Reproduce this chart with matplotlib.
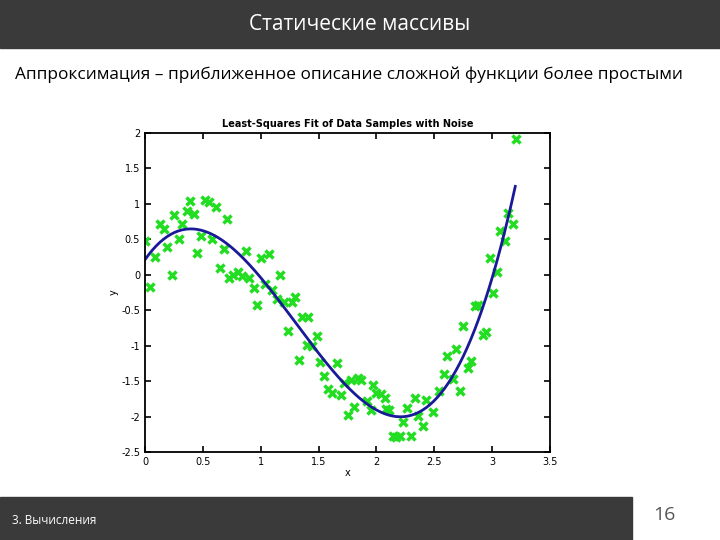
import numpy as np
import matplotlib.pyplot as plt

xs = [0.0, 0.04, 0.09, 0.13, 0.16, 0.19, 0.23, 0.25, 0.29, 0.32, 0.36, 0.39, 0.42, 0.45, 0.48,
      0.52, 0.55, 0.58, 0.61, 0.65, 0.68, 0.71, 0.73, 0.76, 0.8, 0.84, 0.87, 0.9, 0.94, 0.97,
      1.0, 1.04, 1.07, 1.1, 1.14, 1.17, 1.2, 1.24, 1.27, 1.3, 1.33, 1.36, 1.41, 1.4, 1.44,
      1.49, 1.51, 1.55, 1.58, 1.62, 1.66, 1.69, 1.72, 1.75, 1.78, 1.81, 1.84, 1.87, 1.92, 1.95,
      1.97, 2.0, 2.04, 2.07, 2.08, 2.11, 2.14, 2.17, 2.2, 2.23, 2.26, 2.3, 2.33, 2.36, 2.4,
      2.43, 2.49, 2.54, 2.58, 2.61, 2.66, 2.69, 2.72, 2.75, 2.79, 2.82, 2.85, 2.88, 2.92, 2.95,
      2.98, 3.01, 3.04, 3.07, 3.11, 3.14, 3.18, 3.21]
ys = [0.48, -0.17, 0.25, 0.72, 0.65, 0.39, 0.0, 0.85, 0.5, 0.71, 0.9, 1.04, 0.86, 0.31, 0.54,
      1.05, 1.03, 0.51, 0.96, 0.09, 0.37, 0.78, -0.05, 0.0, 0.04, -0.02, 0.33, -0.05, -0.18, -0.42,
      0.24, -0.13, 0.29, -0.22, -0.34, 0.0, -0.39, -0.8, -0.39, -0.31, -1.2, -0.6, -0.6, -0.99, -1.0,
      -0.87, -1.23, -1.43, -1.61, -1.67, -1.25, -1.7, -1.52, -1.98, -1.49, -1.87, -1.45, -1.48, -1.78, -1.91,
      -1.56, -1.67, -1.68, -1.74, -1.89, -1.91, -2.27, -2.29, -2.28, -2.08, -1.88, -2.28, -1.74, -1.99, -2.14,
      -1.77, -1.93, -1.64, -1.4, -1.15, -1.47, -1.05, -1.64, -0.72, -1.32, -1.21, -0.44, -0.43, -0.85, -0.81,
      0.24, -0.26, 0.04, 0.62, 0.47, 0.87, 0.72, 1.91]

# least-squares cubic fit
coef = np.polyfit(xs, ys, 3)
xf = np.linspace(0, 3.2, 200)
yf = np.polyval(coef, xf)

fig = plt.figure(figsize=(7.2, 5.4), dpi=100)
fig.patch.set_facecolor('white')

# slide decorations
fig.patches.append(plt.Rectangle((0, 1 - 48 / 540), 1, 48 / 540, transform=fig.transFigure,
                                 color='#3a3a3a', zorder=0))
fig.text(0.5, 1 - 24 / 540, 'Статические массивы', color='white', fontsize=15,
         ha='center', va='center', family='Open Sans')
fig.text(15 / 720, 1 - 75 / 540,
         'Аппроксимация – приближенное описание сложной функции более простыми',
         fontsize=12.4, ha='left', va='center', family='Open Sans')
fig.patches.append(plt.Rectangle((0, 0), 632 / 720, 43 / 540, transform=fig.transFigure,
                                 color='#3a3a3a', zorder=0))
fig.text(12 / 720, 20 / 540, '3. Вычисления', color='white', fontsize=8.5, ha='left',
         va='center', family='Open Sans')
fig.text(664 / 720, 25 / 540, '16', color='#555555', fontsize=14, ha='center',
         va='center', family='Open Sans')

ax = fig.add_axes([145 / 720, 1 - 452 / 540, 405 / 720, 319 / 540])
ax.plot(xs, ys, 'x', color='#22dd22', markersize=6, markeredgewidth=2.5)
ax.plot(xf, yf, color='#1a1a99', linewidth=2)
ax.set_xlim(0, 3.5)
ax.set_ylim(-2.5, 2)
ax.set_xticks([0, 0.5, 1, 1.5, 2, 2.5, 3, 3.5])
ax.set_xticklabels(['0', '0.5', '1', '1.5', '2', '2.5', '3', '3.5'])
ax.set_yticks([-2.5, -2, -1.5, -1, -0.5, 0, 0.5, 1, 1.5, 2])
ax.set_yticklabels(['-2.5', '-2', '-1.5', '-1', '-0.5', '0', '0.5', '1', '1.5', '2'])
ax.tick_params(labelsize=7, direction='in', top=True, right=True, length=4, width=1.2)
for s in ax.spines.values():
    s.set_linewidth(1.3)
ax.set_title('Least-Squares Fit of Data Samples with Noise', fontsize=7, fontweight='bold', pad=4)
ax.set_xlabel('x', fontsize=7, labelpad=1)
ax.set_ylabel('y', fontsize=7, labelpad=2)

fig.savefig('out.png', dpi=100)
